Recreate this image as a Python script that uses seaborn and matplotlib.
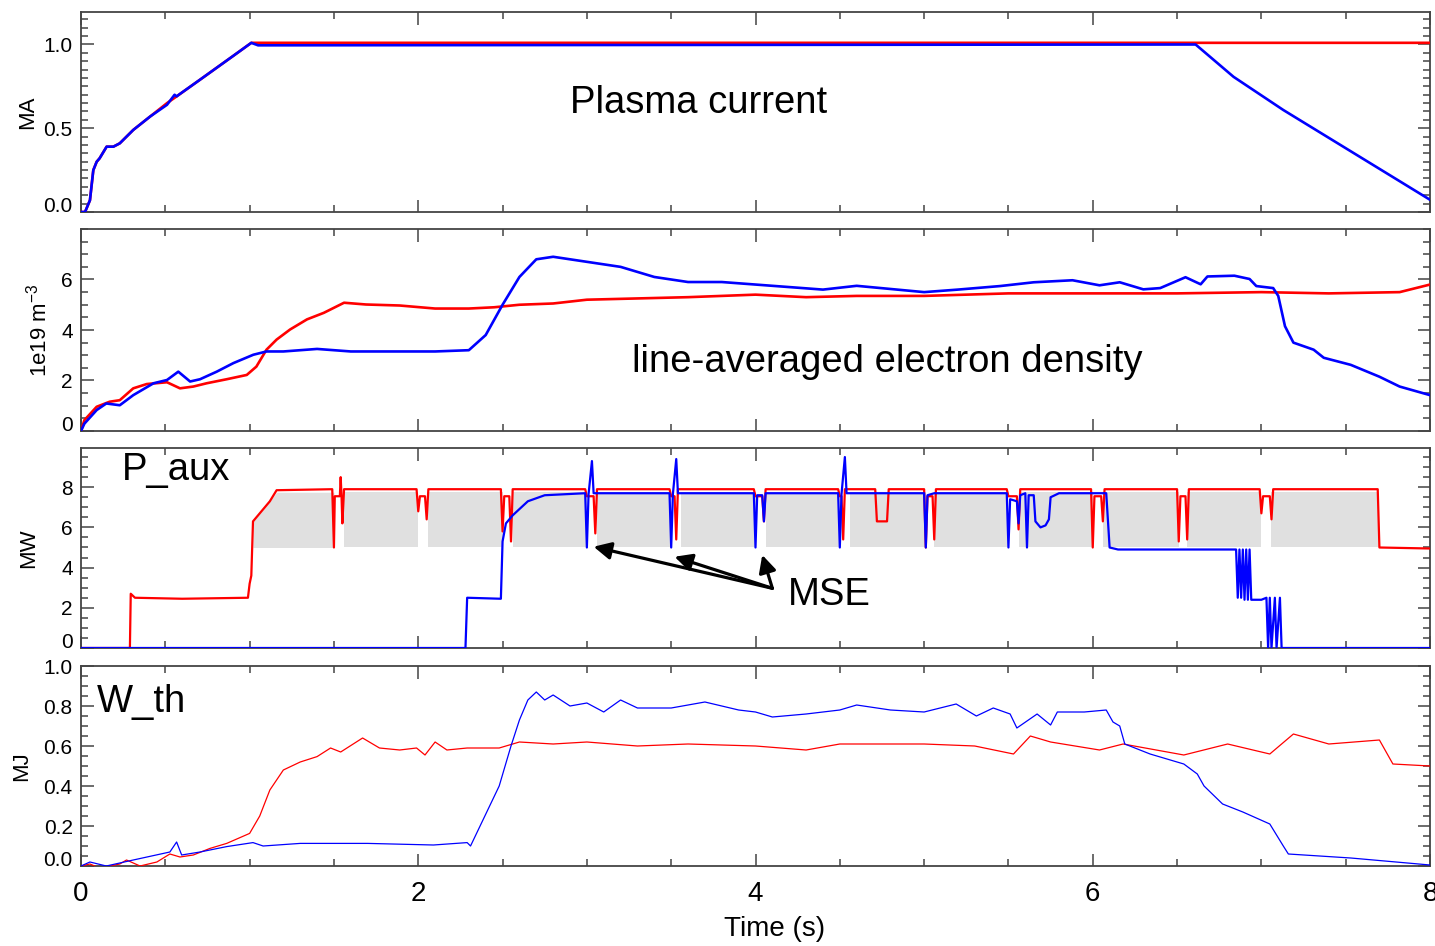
import numpy as np
import pandas as pd
import matplotlib
matplotlib.use("Agg")
import matplotlib.pyplot as plt
import seaborn as sns
from matplotlib.ticker import MultipleLocator, FixedLocator, FormatStrFormatter

# ---------------- data ----------------
# Panel 1: plasma current (MA)
t_ip_red = [0, 0.024, 0.053, 0.073, 0.093, 0.11, 0.152, 0.192, 0.23, 0.31, 0.41, 0.51,
            0.567, 0.706, 0.90, 1.01, 1.05, 8.0]
ip_red = [0, 0.0, 0.07, 0.25, 0.30, 0.32, 0.39, 0.39, 0.41, 0.49, 0.57, 0.65,
          0.69, 0.79, 0.93, 1.01, 1.01, 1.01]
t_ip_blue = [0, 0.024, 0.053, 0.073, 0.093, 0.11, 0.152, 0.192, 0.23, 0.31, 0.41, 0.51,
             0.555, 0.567, 0.58, 0.706, 0.90, 1.01, 1.05, 6.61, 6.835, 7.13, 8.0]
ip_blue = [0, 0.0, 0.07, 0.25, 0.30, 0.32, 0.39, 0.39, 0.41, 0.49, 0.57, 0.64,
           0.70, 0.69, 0.70, 0.79, 0.93, 1.01, 0.995, 1.0, 0.807, 0.609, 0.073]

# Panel 2: line-averaged electron density (1e19 m^-3)
t_ne_red = [0, 0.02, 0.093, 0.17, 0.23, 0.31, 0.39, 0.51, 0.587, 0.666, 0.745, 0.864,
            0.983, 1.04, 1.10, 1.16, 1.24, 1.34, 1.44, 1.56, 1.69, 1.89, 2.1, 2.3, 2.45,
            2.6, 2.8, 3.0, 3.3, 3.6, 4.0, 4.3, 4.6, 5.0, 5.5, 6.0, 6.5, 7.0, 7.4, 7.82, 8.0]
ne_red = [0, 0.43, 0.96, 1.16, 1.22, 1.69, 1.86, 1.93, 1.69, 1.76, 1.89, 2.05,
          2.22, 2.55, 3.22, 3.62, 4.02, 4.42, 4.68, 5.08, 5.01, 4.97, 4.85, 4.85, 4.9,
          5.0, 5.05, 5.2, 5.25, 5.3, 5.4, 5.3, 5.35, 5.35, 5.45, 5.45, 5.45, 5.5, 5.45, 5.5, 5.8]
t_ne_blue = [0, 0.02, 0.093, 0.15, 0.23, 0.31, 0.43, 0.51, 0.577, 0.647, 0.706, 0.805,
             0.904, 1.022, 1.10, 1.20, 1.40, 1.60, 1.89, 2.1, 2.3, 2.4, 2.5, 2.6, 2.7,
             2.8, 3.0, 3.2, 3.4, 3.6, 3.8, 4.0, 4.4, 4.6, 5.0, 5.2, 5.45, 5.65, 5.88,
             6.04, 6.16, 6.30, 6.40, 6.55, 6.64, 6.68, 6.84, 6.93, 6.97, 7.07, 7.10,
             7.14, 7.19, 7.31, 7.37, 7.53, 7.70, 7.82, 8.0]
ne_blue = [0, 0.29, 0.83, 1.09, 1.02, 1.42, 1.89, 2.02, 2.35, 1.96, 2.05, 2.35,
           2.69, 3.02, 3.15, 3.15, 3.25, 3.15, 3.15, 3.15, 3.2, 3.8, 5.0, 6.1, 6.8,
           6.9, 6.7, 6.5, 6.1, 5.9, 5.9, 5.8, 5.6, 5.75, 5.5, 5.6, 5.74, 5.89, 5.97,
           5.77, 5.89, 5.61, 5.66, 6.09, 5.81, 6.12, 6.15, 6.02, 5.74, 5.66, 5.35,
           4.15, 3.50, 3.22, 2.9, 2.62, 2.15, 1.76, 1.42]

# Panel 3: auxiliary heating power (MW)
t_p_red = [0, 0.29, 0.295, 0.32, 0.6, 0.99, 1.0, 1.01, 1.02, 1.06, 1.12, 1.16,
           1.49, 1.50, 1.505, 1.535, 1.54, 1.545, 1.55, 1.56,
           1.99, 2.0, 2.01, 2.04, 2.05, 2.06,
           2.49, 2.50, 2.51, 2.54, 2.55, 2.56,
           2.99, 3.00, 3.04, 3.05, 3.06,
           3.49, 3.50, 3.52, 3.53, 3.54,
           3.99, 4.00, 4.04, 4.05, 4.06,
           4.49, 4.50, 4.51, 4.52, 4.53,
           4.71, 4.72, 4.78, 4.79,
           5.00, 5.01, 5.02, 5.05, 5.06, 5.07,
           5.49, 5.50, 5.55, 5.56, 5.57,
           5.99, 6.00, 6.01, 6.05, 6.06, 6.07,
           6.50, 6.51, 6.52, 6.55, 6.56, 6.57,
           6.99, 7.00, 7.01, 7.05, 7.06, 7.07,
           7.69, 7.70, 8.0]
p_red = [0, 0, 2.7, 2.5, 2.45, 2.5, 3.2, 3.6, 6.3, 6.7, 7.3, 7.85,
         7.9, 5.0, 7.55, 7.55, 8.5, 7.55, 6.2, 7.9,
         7.9, 6.8, 7.55, 7.55, 6.4, 7.9,
         7.9, 5.8, 7.55, 7.55, 5.3, 7.9,
         7.9, 7.55, 7.55, 5.7, 7.9,
         7.9, 7.55, 7.55, 5.4, 7.9,
         7.9, 7.55, 7.55, 6.3, 7.9,
         7.9, 7.55, 7.55, 5.4, 7.9,
         7.9, 6.3, 6.3, 7.9,
         7.9, 5.0, 7.55, 7.55, 5.4, 7.9,
         7.9, 7.55, 7.55, 5.9, 7.9,
         7.9, 5.0, 7.55, 7.55, 6.3, 7.9,
         7.9, 5.3, 7.55, 7.55, 5.4, 7.9,
         7.9, 6.7, 7.55, 7.55, 6.4, 7.9,
         7.9, 5.0, 4.95]
t_p_blue = [0, 2.28, 2.29, 2.49, 2.50, 2.52, 2.56, 2.65, 2.75,
            2.99, 3.00, 3.01, 3.03, 3.04,
            3.49, 3.50, 3.51, 3.53, 3.54,
            3.99, 4.00, 4.01, 4.04, 4.05, 4.06,
            4.49, 4.50, 4.51, 4.53, 4.54,
            5.00, 5.01, 5.02, 5.06,
            5.49, 5.50, 5.51, 5.55, 5.56, 5.57, 5.60, 5.61, 5.62, 5.65, 5.66, 5.69,
            5.72, 5.74, 5.75, 5.80,
            6.08, 6.10, 6.15, 6.85, 6.86, 6.87, 6.88, 6.89, 6.90, 6.91, 6.92, 6.93,
            6.94, 7.00, 7.03, 7.04, 7.05, 7.06, 7.08, 7.09, 7.11, 7.12, 8.0]
p_blue = [0, 0, 2.5, 2.45, 5.3, 6.2, 6.6, 7.3, 7.6,
          7.7, 5.0, 7.65, 9.3, 7.7,
          7.7, 5.0, 7.65, 9.4, 7.7,
          7.7, 5.0, 7.6, 7.6, 6.3, 7.7,
          7.7, 5.0, 7.65, 9.5, 7.7,
          7.7, 5.0, 7.6, 7.7,
          7.7, 5.0, 7.4, 7.3, 6.2, 7.6, 7.7, 5.0, 7.6, 7.6, 6.3, 6.0,
          6.1, 6.4, 7.5, 7.7,
          7.7, 5.0, 4.9, 4.9, 2.5, 4.9, 2.5, 4.9, 2.4, 4.9, 2.4, 4.9,
          2.4, 2.4, 2.5, 0.0, 2.5, 0.0, 2.5, 0.0, 2.5, 0.0, 0.0]
# grey shaded beam windows (MW)
gray_start = [1.02, 1.56, 2.06, 2.56, 3.06, 3.56, 4.06, 4.56, 5.06, 5.56, 6.06, 6.56, 7.06]
gray_end = [1.50, 2.00, 2.50, 3.00, 3.50, 4.00, 4.50, 5.01, 5.50, 6.00, 6.51, 7.00, 7.70]
gray_low = 5.0
gray_high = 7.75
gray_ramp_t = [1.02, 1.06, 1.12, 1.16]
gray_ramp_v = [6.3, 6.7, 7.3, 7.75]

# Panel 4: thermal stored energy (MJ)
t_w_red = [0, 0.053, 0.11, 0.17, 0.23, 0.27, 0.35, 0.45, 0.527, 0.587, 0.666, 0.765,
           0.864, 1.0, 1.06, 1.12, 1.20, 1.30, 1.40, 1.48, 1.54, 1.67, 1.77, 1.89, 1.99,
           2.04, 2.10, 2.17, 2.29, 2.48, 2.6, 2.8, 3.0, 3.3, 3.6, 4.0, 4.3, 4.5, 5.0,
           5.3, 5.53, 5.63, 5.75, 6.04, 6.18, 6.54, 6.8, 7.05, 7.19, 7.4, 7.70, 7.78, 8.0]
w_red = [0, 0.01, -0.01, 0.0, 0.01, 0.03, 0.0, 0.02, 0.06, 0.045, 0.055, 0.088,
         0.113, 0.163, 0.25, 0.38, 0.48, 0.52, 0.547, 0.59, 0.57, 0.64, 0.59, 0.58, 0.59,
         0.555, 0.62, 0.58, 0.59, 0.59, 0.62, 0.61, 0.62, 0.6, 0.61, 0.60, 0.58, 0.61, 0.61,
         0.6, 0.56, 0.65, 0.62, 0.58, 0.61, 0.555, 0.61, 0.56, 0.66, 0.61, 0.63, 0.51, 0.50]
t_w_blue = [0, 0.053, 0.15, 0.31, 0.527, 0.567, 0.597, 0.706, 0.864, 1.02, 1.08, 1.30,
            1.70, 2.09, 2.29, 2.31, 2.48, 2.55, 2.6, 2.65, 2.7, 2.75, 2.8, 2.9, 3.0, 3.1,
            3.2, 3.3, 3.5, 3.7, 3.9, 4.0, 4.1, 4.3, 4.5, 4.6, 4.8, 5.0, 5.19, 5.31, 5.41,
            5.51, 5.55, 5.67, 5.75, 5.79, 5.95, 6.08, 6.12, 6.16, 6.19, 6.34, 6.54, 6.62,
            6.66, 6.77, 6.89, 7.05, 7.13, 7.16, 7.53, 8.0]
w_blue = [0, 0.02, 0.0, 0.03, 0.07, 0.12, 0.055, 0.07, 0.097, 0.117, 0.10, 0.113,
          0.113, 0.105, 0.117, 0.10, 0.40, 0.6, 0.73, 0.83, 0.87, 0.83, 0.855, 0.80, 0.815,
          0.77, 0.83, 0.79, 0.79, 0.82, 0.78, 0.77, 0.745, 0.76, 0.78, 0.805, 0.78, 0.77,
          0.81, 0.75, 0.79, 0.76, 0.69, 0.76, 0.705, 0.77, 0.77, 0.78, 0.72, 0.70, 0.61,
          0.56, 0.51, 0.46, 0.40, 0.31, 0.27, 0.21, 0.10, 0.06, 0.04, 0.005]

# MSE arrows (time, MW)
mse_tail = (4.10, 2.97)
mse_heads_t = [3.04, 3.52, 4.04]
mse_heads_v = [5.04, 4.54, 4.63]

# ---------------- styling ----------------
sns.set_theme(style="ticks")
plt.rcParams["font.family"] = ["Liberation Sans", "DejaVu Sans"]
plt.rcParams["mathtext.fontset"] = "custom"
plt.rcParams["mathtext.rm"] = "Liberation Sans"
plt.rcParams["mathtext.it"] = "Liberation Sans:italic"
plt.rcParams["mathtext.bf"] = "Liberation Sans:bold"
plt.rcParams["text.color"] = "black"
plt.rcParams["axes.labelcolor"] = "black"
plt.rcParams["xtick.labelcolor"] = "black"
plt.rcParams["ytick.labelcolor"] = "black"

RED = "#ff0000"
BLUE = "#0000ff"
FRAME = "#444444"

fig = plt.figure(figsize=(14.35, 9.46), dpi=100)
L, W = 81 / 1435, 1349 / 1435
rects = [(12, 212), (229, 431), (448, 648), (666, 866)]
axes = [fig.add_axes([L, 1 - b / 946, W, (b - t) / 946]) for t, b in rects]


def draw(ax, t, v, color, lw):
    df = pd.DataFrame({"t": t, "v": v})
    sns.lineplot(data=df, x="t", y="v", color=color, linewidth=lw, ax=ax,
                 estimator=None, sort=False, legend=False, zorder=3)


def style(ax, ylim, yticks, yminor, fmt, ylabel, labelx):
    ax.set_xlim(0, 8)
    ax.set_ylim(*ylim)
    ax.xaxis.set_major_locator(MultipleLocator(2))
    ax.xaxis.set_minor_locator(MultipleLocator(0.5))
    ax.yaxis.set_major_locator(FixedLocator(yticks))
    ax.yaxis.set_minor_locator(MultipleLocator(yminor))
    ax.yaxis.set_major_formatter(FormatStrFormatter(fmt))
    ax.tick_params(which="both", direction="in", top=True, right=True,
                   color=FRAME, width=1.1)
    ax.tick_params(which="major", length=9, pad=6)
    ax.tick_params(which="minor", length=5)
    ax.tick_params(axis="y", labelsize=15, labelcolor="black")
    ax.tick_params(axis="x", labelsize=20, pad=11, labelcolor="black")
    for s in ax.spines.values():
        s.set_color(FRAME)
        s.set_linewidth(1.3)
    ax.set_xlabel("")
    ax.set_ylabel(ylabel, fontsize=16, color="black")
    ax.yaxis.set_label_coords(labelx, 0.5)
    ax.grid(False)
    ax.set_facecolor("white")
    # lowest label sits above its tick, as in the reference
    ax.yaxis.get_major_ticks()[0].label1.set_verticalalignment("baseline")


ax1, ax2, ax3, ax4 = axes

# Panel 1
draw(ax1, t_ip_red, ip_red, RED, 1.9)
draw(ax1, t_ip_blue, ip_blue, BLUE, 1.9)
style(ax1, (0, 1.194), [0.0, 0.5, 1.0], 0.05, "%.1f", "MA", -0.032)
ax1.text(2.90, 0.59, "Plasma current", fontsize=27.5, ha="left", va="baseline", color="black")

# Panel 2
draw(ax2, t_ne_red, ne_red, RED, 1.9)
draw(ax2, t_ne_blue, ne_blue, BLUE, 1.9)
style(ax2, (0, 8.0), [0, 2, 4, 6], 0.5, "%d", r"1e19 m$^{-3}$", -0.022)
ax2.text(3.27, 2.34, "line-averaged electron density", fontsize=27.5, ha="left",
         va="baseline", color="black")

# Panel 3
for i, (s, e) in enumerate(zip(gray_start, gray_end)):
    if i == 0:
        xs = gray_ramp_t + [e]
        ys = gray_ramp_v + [gray_high]
    else:
        xs = [s, e]
        ys = [gray_high, gray_high]
    ax3.fill_between(xs, gray_low, ys, color="#e0e0e0", linewidth=0, zorder=1)
draw(ax3, t_p_red, p_red, RED, 1.6)
draw(ax3, t_p_blue, p_blue, BLUE, 1.6)
style(ax3, (0, 9.95), [0, 2, 4, 6, 8], 0.5, "%d", "MW", -0.031)
ax3.text(0.24, 8.36, "P_aux", fontsize=27.5, ha="left", va="baseline", color="black")
ax3.text(4.19, 2.14, "MSE", fontsize=27.5, ha="left", va="baseline", color="black")
for ht, hv in zip(mse_heads_t, mse_heads_v):
    ax3.annotate("", xy=(ht, hv), xytext=mse_tail,
                 arrowprops=dict(arrowstyle="-|>", color="black", lw=2.3,
                                 mutation_scale=26, shrinkA=0, shrinkB=0),
                 zorder=5)

# Panel 4
draw(ax4, t_w_red, w_red, RED, 0.9)
draw(ax4, t_w_blue, w_blue, BLUE, 0.9)
style(ax4, (0, 1.0), [0.0, 0.2, 0.4, 0.6, 0.8, 1.0], 0.05, "%.1f", "MJ", -0.036)
ax4.text(0.093, 0.77, "W_th", fontsize=27.5, ha="left", va="baseline", color="black")
ax4.set_xlabel("Time (s)", fontsize=20, color="black")
ax4.xaxis.set_label_coords(0.5144, -0.25)

for ax in (ax1, ax2, ax3):
    ax.tick_params(labelbottom=False)

fig.savefig("out.png", dpi=100, facecolor="white")
